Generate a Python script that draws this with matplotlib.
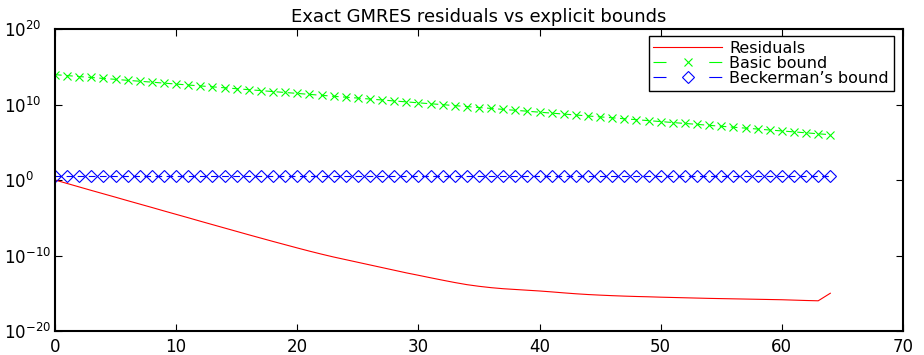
import numpy as np
import matplotlib
matplotlib.use("Agg")
import matplotlib.pyplot as plt
from matplotlib.lines import Line2D
from matplotlib.ticker import FixedLocator, LogFormatterSciNotation

plt.rcParams['font.family'] = ['DejaVu Sans']
plt.rcParams['mathtext.fontset'] = 'dejavusans'
plt.rcParams['mathtext.default'] = 'regular'

# iteration index
iters = list(range(65))

# log10 of exact GMRES residual norms
res_log10 = [
    0.00, -0.46, -0.92, -1.38, -1.83, -2.28, -2.74, -3.19, -3.64, -4.10,
    -4.55, -5.00, -5.46, -5.91, -6.36, -6.81, -7.26, -7.70, -8.14, -8.57,
    -9.00, -9.42, -9.82, -10.20, -10.55, -10.90, -11.25, -11.60, -11.95, -12.30,
    -12.62, -12.95, -13.27, -13.58, -13.86, -14.08, -14.26, -14.40, -14.50, -14.60,
    -14.70, -14.82, -14.95, -15.07, -15.17, -15.25, -15.32, -15.38, -15.43, -15.47,
    -15.52, -15.56, -15.60, -15.64, -15.68, -15.71, -15.74, -15.77, -15.80, -15.83,
    -15.86, -15.91, -15.96, -16.00, -15.00,
]

# log10 of the basic bound
basic_log10 = [
    13.95, 13.83, 13.70, 13.58, 13.45, 13.33, 13.20, 13.08, 12.96, 12.83,
    12.71, 12.58, 12.46, 12.34, 12.21, 12.09, 11.96, 11.84, 11.71, 11.59,
    11.47, 11.34, 11.22, 11.09, 10.97, 10.85, 10.72, 10.60, 10.47, 10.35,
    10.22, 10.10, 9.98, 9.85, 9.73, 9.60, 9.48, 9.35, 9.23, 9.11,
    8.98, 8.86, 8.73, 8.61, 8.48, 8.36, 8.24, 8.11, 7.99, 7.86,
    7.74, 7.61, 7.49, 7.37, 7.24, 7.12, 6.99, 6.87, 6.75, 6.62,
    6.50, 6.37, 6.25, 6.12, 6.00,
]

# log10 of Beckerman's bound
beck_log10 = [
    0.50, 0.50, 0.50, 0.50, 0.50, 0.50, 0.50, 0.50, 0.50, 0.50,
    0.50, 0.50, 0.50, 0.50, 0.50, 0.50, 0.50, 0.50, 0.50, 0.50,
    0.50, 0.50, 0.50, 0.50, 0.50, 0.50, 0.50, 0.50, 0.50, 0.50,
    0.50, 0.50, 0.50, 0.50, 0.50, 0.50, 0.50, 0.50, 0.50, 0.50,
    0.50, 0.50, 0.50, 0.50, 0.50, 0.50, 0.50, 0.50, 0.50, 0.50,
    0.50, 0.50, 0.50, 0.50, 0.50, 0.50, 0.50, 0.50, 0.50, 0.50,
    0.50, 0.50, 0.50, 0.50, 0.50,
]

labels = ['Residuals', 'Basic bound', "Beckerman\u2019s bound"]
xticks = [0, 10, 20, 30, 40, 50, 60, 70]
yticks = [1e-20, 1e-10, 1e0, 1e10, 1e20]

RED, GREEN, BLUE = (1, 0, 0), (0, 1, 0), (0, 0, 1)

fig = plt.figure(figsize=(9.24, 3.55), dpi=100)
ax = fig.add_axes([55 / 924, 1 - 331 / 355, 848 / 924, 302 / 355])

ax.semilogy(iters, 10.0 ** np.array(res_log10), color=RED, lw=0.8)
ax.semilogy(iters, 10.0 ** np.array(basic_log10), color=GREEN, lw=0.8,
            ls=(0, (6, 4)), marker='x', ms=6, mew=0.8)
ax.semilogy(iters, 10.0 ** np.array(beck_log10), color=BLUE, lw=0.8,
            ls=(0, (6, 4)), marker='D', ms=6.5, mew=0.8, mfc='none')

ax.set_xlim(0, 70)
ax.set_ylim(1e-20, 1e20)
ax.xaxis.set_major_locator(FixedLocator(xticks))
ax.yaxis.set_major_locator(FixedLocator(yticks))
ax.yaxis.set_minor_locator(FixedLocator([]))
ax.yaxis.set_major_formatter(LogFormatterSciNotation())
ax.tick_params(which='both', direction='in', top=True, right=True,
               length=5, width=0.8, labelsize=12)
ax.tick_params(axis='x', pad=5)
# matlab puts the y labels flush left
ax.tick_params(axis='y', pad=36.5)
for lab in ax.get_yticklabels():
    lab.set_horizontalalignment('left')
for s in ax.spines.values():
    s.set_linewidth(1.5)

ax.set_title('Exact GMRES residuals vs explicit bounds', fontsize=13, pad=5)

# legend samples drawn matlab style: dash, marker, dash
handles = [
    Line2D([], [], color=RED, lw=0.8),
    Line2D([], [], color=GREEN, lw=0.8, dashes=(11.7, 38.5), marker='x', ms=6,
           mew=0.8),
    Line2D([], [], color=BLUE, lw=0.8, dashes=(11.7, 38.5), marker='D', ms=6.5,
           mew=0.8, mfc='none'),
]
leg = ax.legend(handles, labels, loc='upper right', bbox_to_anchor=(0.989, 0.977),
                numpoints=1, fontsize=11.5, handlelength=4.3, handletextpad=0.45,
                labelspacing=0.0, borderpad=0.3, borderaxespad=0,
                fancybox=False, framealpha=1)
leg.get_frame().set_edgecolor('black')
leg.get_frame().set_linewidth(1.0)

fig.savefig('out.png', dpi=100)
